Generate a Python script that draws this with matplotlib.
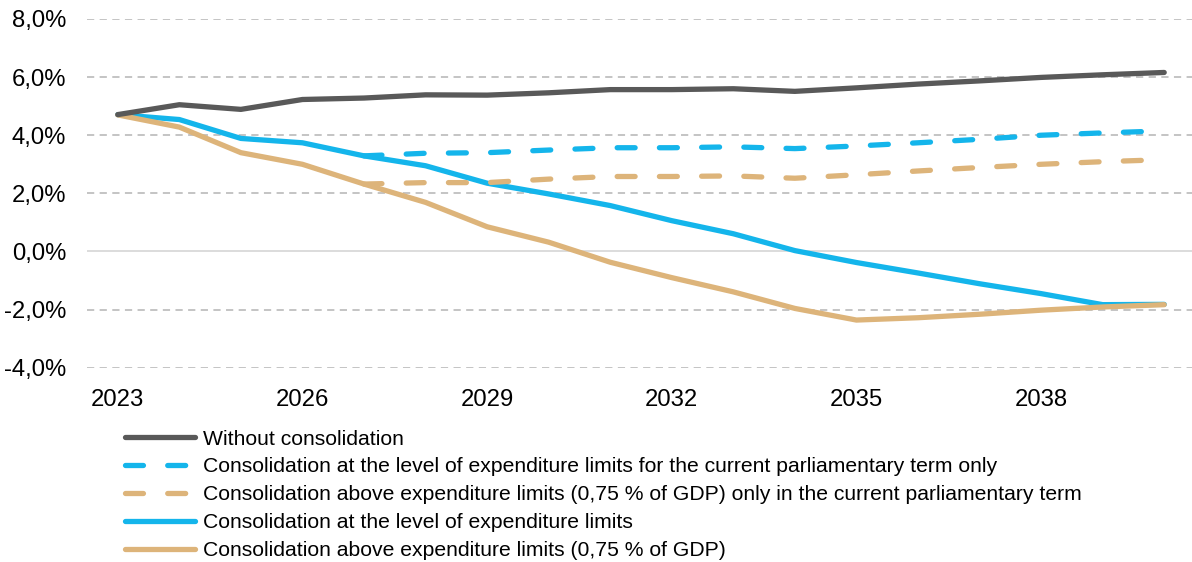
import numpy as np
import matplotlib
matplotlib.use("Agg")
import matplotlib.pyplot as plt
from matplotlib.ticker import FuncFormatter

plt.rcParams["font.family"] = ["Liberation Sans", "DejaVu Sans"]
plt.rcParams["font.size"] = 15

# ---- data ----
years = list(range(2023, 2041))

without_cons = [4.71, 5.05, 4.89, 5.23, 5.28, 5.39, 5.38, 5.46, 5.57, 5.57,
                5.60, 5.51, 5.63, 5.76, 5.87, 5.99, 6.08, 6.16]
limits = [4.71, 4.54, 3.89, 3.74, 3.29, 2.95, 2.35, 1.98, 1.58, 1.06,
          0.61, 0.03, -0.38, -0.74, -1.11, -1.45, -1.83, -1.82]
above_limits = [4.70, 4.28, 3.40, 3.00, 2.32, 1.69, 0.85, 0.32, -0.37, -0.90,
                -1.39, -1.96, -2.36, -2.28, -2.16, -2.02, -1.91, -1.83]

# term-only scenarios split from the full ones in 2027
term_years = list(range(2027, 2041))
limits_term = [3.29, 3.38, 3.40, 3.49, 3.57, 3.57, 3.60, 3.54, 3.63, 3.74,
               3.86, 4.00, 4.08, 4.15]
above_term = [2.32, 2.37, 2.37, 2.49, 2.58, 2.58, 2.60, 2.52, 2.64, 2.77,
              2.89, 3.00, 3.09, 3.16]

labels = [
    "Without consolidation",
    "Consolidation at the level of expenditure limits for the current parliamentary term only",
    "Consolidation above expenditure limits (0,75 % of GDP) only in the current parliamentary term",
    "Consolidation at the level of expenditure limits",
    "Consolidation above expenditure limits (0,75 % of GDP)",
]

GREY = "#595959"
BLUE = "#14B5EB"
TAN = "#DDB47A"

x_all = [years.index(y) for y in years]
x_term = [years.index(y) for y in term_years]

fig = plt.figure(figsize=(11.92, 5.62), dpi=100)
ax = fig.add_axes([0.0730, 0.3457, 0.9295, 0.6205])

lw = 3.8
h_blue, = ax.plot(x_all, limits, color=BLUE, lw=lw, solid_capstyle="round",
                  solid_joinstyle="round", zorder=3)
h_tan, = ax.plot(x_all, above_limits, color=TAN, lw=lw, solid_capstyle="round",
                 solid_joinstyle="round", zorder=4)
h_blue_d, = ax.plot(x_term, limits_term, color=BLUE, lw=lw, dashes=(3.4, 4.6),
                    dash_capstyle="round", zorder=5)
h_tan_d, = ax.plot(x_term, above_term, color=TAN, lw=lw, dashes=(3.4, 4.6),
                   dash_capstyle="round", zorder=5)
h_grey, = ax.plot(x_all, without_cons, color=GREY, lw=lw, solid_capstyle="round",
                  solid_joinstyle="round", zorder=6)

# grid
for v in range(-4, 9, 2):
    if v == 0:
        ax.axhline(v, color="#D9D9D9", lw=1.3, zorder=1)
    else:
        ax.axhline(v, color="#BFBFBF", lw=1.3, dashes=(4, 3), zorder=1)

ax.set_xlim(-0.5, len(years) - 0.5)
ax.set_ylim(-4, 8)
ax.set_yticks(range(-4, 9, 2))
ax.yaxis.set_major_formatter(FuncFormatter(lambda v, p: f"{v:.1f}%".replace(".", ",")))
tick_years = years[::3]
ax.set_xticks([years.index(y) for y in tick_years])
ax.set_xticklabels([str(y) for y in tick_years])
ax.tick_params(axis="both", length=0, labelsize=17.2, colors="black")
ax.tick_params(axis="y", pad=15)
ax.tick_params(axis="x", pad=15)
for s in ax.spines.values():
    s.set_visible(False)

fig.legend([h_grey, h_blue_d, h_tan_d, h_blue, h_tan], labels,
           loc="upper left", bbox_to_anchor=(0.1049, 0.2357), frameon=False,
           handlelength=3.3, handletextpad=0.38, labelspacing=0.42,
           borderaxespad=0, borderpad=0, fontsize=15.2)

fig.savefig("out.png", dpi=100)
